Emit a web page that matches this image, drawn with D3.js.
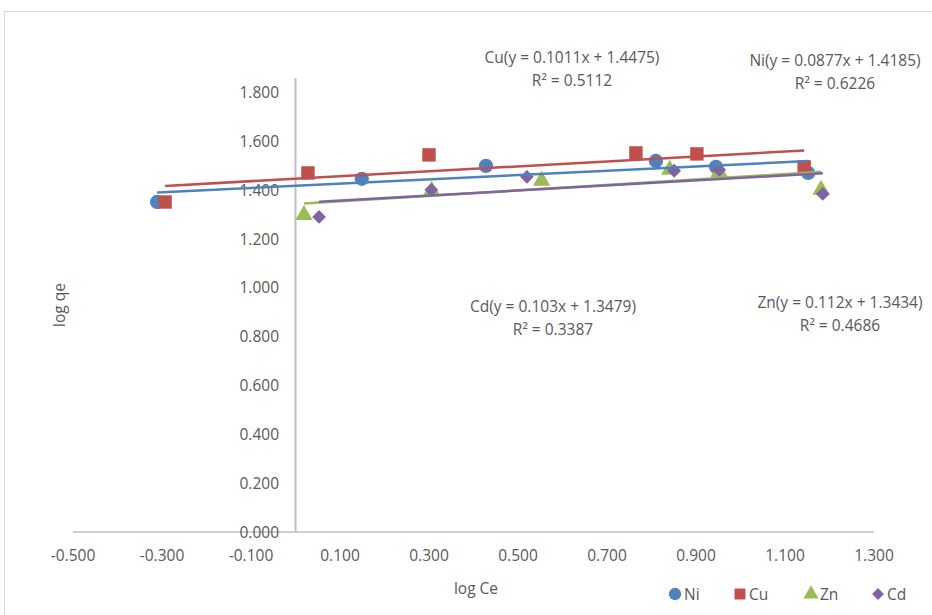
<!DOCTYPE html>
<html>
<head>
<meta charset="utf-8">
<script src="https://cdn.jsdelivr.net/npm/d3@7"></script>
<style>
  body { margin: 0; background: #fff; }
  text { font-family: "Open Sans", "Liberation Sans", sans-serif; fill: #595959; }
</style>
</head>
<body>
<script>
const width = 932;
const height = 615;

// values
const metals = ["Ni", "Cu", "Zn", "Cd"];
const colors = ["#4f81bd", "#c0504d", "#9bbb59", "#8064a2"];
const niX = [-0.311, 0.149, 0.428, 0.810, 0.945, 1.152];
const niY = [1.352, 1.447, 1.500, 1.520, 1.496, 1.471];
const cuX = [-0.293, 0.028, 0.300, 0.765, 0.902, 1.143];
const cuY = [1.352, 1.471, 1.545, 1.553, 1.549, 1.496];
const znX = [0.019, 0.306, 0.553, 0.841, 0.952, 1.181];
const znY = [1.299, 1.398, 1.439, 1.484, 1.475, 1.402];
const cdX = [0.053, 0.305, 0.520, 0.851, 0.952, 1.185];
const cdY = [1.291, 1.402, 1.455, 1.480, 1.484, 1.385];
const slopes = [0.0877, 0.1011, 0.112, 0.103];
const intercepts = [1.4185, 1.4475, 1.3434, 1.3479];
const eqLabels = ["Ni(y = 0.0877x + 1.4185)", "Cu(y = 0.1011x + 1.4475)", "Zn(y = 0.112x + 1.3434)", "Cd(y = 0.103x + 1.3479)"];
const r2Labels = ["R² = 0.6226", "R² = 0.5112", "R² = 0.4686", "R² = 0.3387"];
const xTicks = [-0.5, -0.3, -0.1, 0.1, 0.3, 0.5, 0.7, 0.9, 1.1, 1.3];
const yTicks = [0, 0.2, 0.4, 0.6, 0.8, 1.0, 1.2, 1.4, 1.6, 1.8];

const xs = [niX, cuX, znX, cdX];
const ys = [niY, cuY, znY, cdY];
const series = metals.map((m, i) => ({
  name: m,
  color: colors[i],
  points: xs[i].map((x, j) => ({ x, y: ys[i][j] })),
  slope: slopes[i],
  intercept: intercepts[i]
}));

const x = d3.scaleLinear().domain([-0.5, 1.3]).range([73, 874]);
const y = d3.scaleLinear().domain([0, 1.86]).range([532, 78]);

const svg = d3.select("body").append("svg")
  .attr("width", width)
  .attr("height", height);

// chart frame
svg.append("rect")
  .attr("x", 4.5).attr("y", 11.5)
  .attr("width", 940).attr("height", 620)
  .attr("fill", "none").attr("stroke", "#d9d9d9");

// axes lines
svg.append("line")
  .attr("x1", x(-0.5)).attr("x2", x(1.3))
  .attr("y1", y(0)).attr("y2", y(0))
  .attr("stroke", "#bfbfbf").attr("stroke-width", 1.5);
svg.append("line")
  .attr("x1", x(0)).attr("x2", x(0))
  .attr("y1", y(0)).attr("y2", y(1.86))
  .attr("stroke", "#bfbfbf").attr("stroke-width", 2);

// tick labels
svg.selectAll(".xt").data(xTicks).join("text")
  .attr("x", d => x(d)).attr("y", 561)
  .attr("text-anchor", "middle")
  .style("font-size", "15.5px")
  .text(d => d3.format(".3f")(d).replace("−", "-"));

svg.selectAll(".yt").data(yTicks).join("text")
  .attr("x", 279).attr("y", d => y(d) + 5.5)
  .attr("text-anchor", "end")
  .style("font-size", "15.5px")
  .text(d => d3.format(".3f")(d));

// axis titles
svg.append("text")
  .attr("transform", "translate(65,305) rotate(-90)")
  .attr("text-anchor", "middle")
  .style("font-size", "15.5px")
  .text("log qe");
svg.append("text")
  .attr("x", 476).attr("y", 594)
  .attr("text-anchor", "middle")
  .style("font-size", "15.5px")
  .text("log Ce");

// markers
const symbols = [d3.symbolCircle, d3.symbolSquare, d3.symbolTriangle, d3.symbolSquare];
const rotations = [0, 0, 0, 45];
const sizes = [160, 180, 130, 95];

series.forEach((s, i) => {
  svg.append("g").selectAll("path").data(s.points).join("path")
    .attr("transform", d => `translate(${x(d.x)},${y(d.y)}) rotate(${rotations[i]})`)
    .attr("d", d3.symbol().type(symbols[i]).size(sizes[i]))
    .attr("fill", s.color);
});

// linear trendlines from the fitted equations
series.forEach(s => {
  const [x0, x1] = d3.extent(s.points, d => d.x);
  svg.append("line")
    .attr("x1", x(x0)).attr("y1", y(s.slope * x0 + s.intercept))
    .attr("x2", x(x1)).attr("y2", y(s.slope * x1 + s.intercept))
    .attr("stroke", s.color).attr("stroke-width", 2.5);
});

// equation labels
const labelPos = [[835, 61], [572, 58], [840, 303], [553, 307]];
series.forEach((s, i) => {
  const [lx, ly] = labelPos[i];
  const t = svg.append("text")
    .attr("text-anchor", "middle")
    .style("font-size", "15.5px");
  t.append("tspan").attr("x", lx).attr("y", ly + 5).text(eqLabels[i]);
  t.append("tspan").attr("x", lx).attr("y", ly + 28).text(r2Labels[i]);
});

// legend
const legendX = [675, 740, 811, 878];
const legendSizes = [120, 120, 100, 70];
series.forEach((s, i) => {
  svg.append("path")
    .attr("transform", `translate(${legendX[i]},594) rotate(${rotations[i]})`)
    .attr("d", d3.symbol().type(symbols[i]).size(legendSizes[i]))
    .attr("fill", s.color);
  svg.append("text")
    .attr("x", legendX[i] + 9).attr("y", 599.5)
    .style("font-size", "15.5px")
    .text(s.name);
});
</script>
</body>
</html>
